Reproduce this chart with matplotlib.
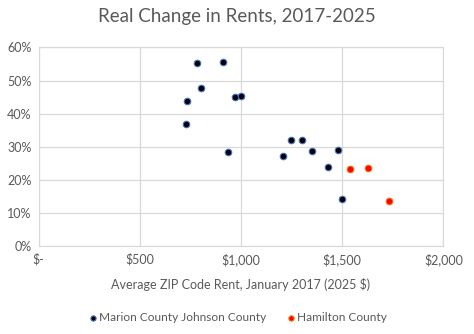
import matplotlib.pyplot as plt
from matplotlib.ticker import FuncFormatter

plt.rcParams['font.family'] = ['Lato', 'DejaVu Sans']

# Marion + Johnson County ZIPs
mj_rent = [728, 734, 784, 803, 911, 937, 971, 1001, 1209, 1248, 1301, 1352, 1429, 1479, 1500]
mj_change = [36.8, 43.7, 55.2, 47.6, 55.5, 28.3, 44.9, 45.2, 27.1, 32.2, 31.9, 28.6, 23.8, 28.9, 14.1]

# Hamilton County ZIPs
ham_rent = [1540, 1629, 1733]
ham_change = [23.2, 23.5, 13.5]

x_ticks = [0, 500, 1000, 1500, 2000]
y_ticks = [0, 10, 20, 30, 40, 50, 60]

fig = plt.figure(figsize=(4.74, 3.34), dpi=100)
ax = fig.add_axes([0.0816, 0.263, 0.8537, 0.595])

ax.scatter(mj_rent, mj_change, s=22, c='black', edgecolors='#4472C4', linewidths=0.8,
           label='Marion County Johnson County', zorder=3)
ax.scatter(ham_rent, ham_change, s=22, c='#FF0000', edgecolors='#FF6A00', linewidths=0.8,
           label='Hamilton County', zorder=3)

ax.set_xlim(0, 2000)
ax.set_ylim(0, 60)
ax.set_xticks(x_ticks)
ax.set_yticks(y_ticks)
ax.xaxis.set_major_formatter(FuncFormatter(lambda v, p: '$-' if v == 0 else f'${v:,.0f}'))
ax.yaxis.set_major_formatter(FuncFormatter(lambda v, p: f'{v:.0f}%'))
ax.grid(True, color='#D9D9D9', linewidth=0.9)
ax.set_axisbelow(True)
for s in ax.spines.values():
    s.set_color('#D9D9D9')
ax.tick_params(length=0, labelsize=9, colors='#595959', pad=5)

ax.set_xlabel('Average ZIP Code Rent, January 2017 (2025 $)', fontsize=9, color='#595959', labelpad=9)
fig.suptitle('Real Change in Rents, 2017-2025', fontsize=13.5, color='#595959', y=0.975)

fig.legend(loc='lower center', bbox_to_anchor=(0.5, 0.0), ncol=2, frameon=False,
           fontsize=8.6, labelcolor='#595959', handletextpad=0.0, columnspacing=1.6,
           handlelength=1.0, markerscale=0.8)

fig.savefig('out.png', dpi=100, facecolor='white')
